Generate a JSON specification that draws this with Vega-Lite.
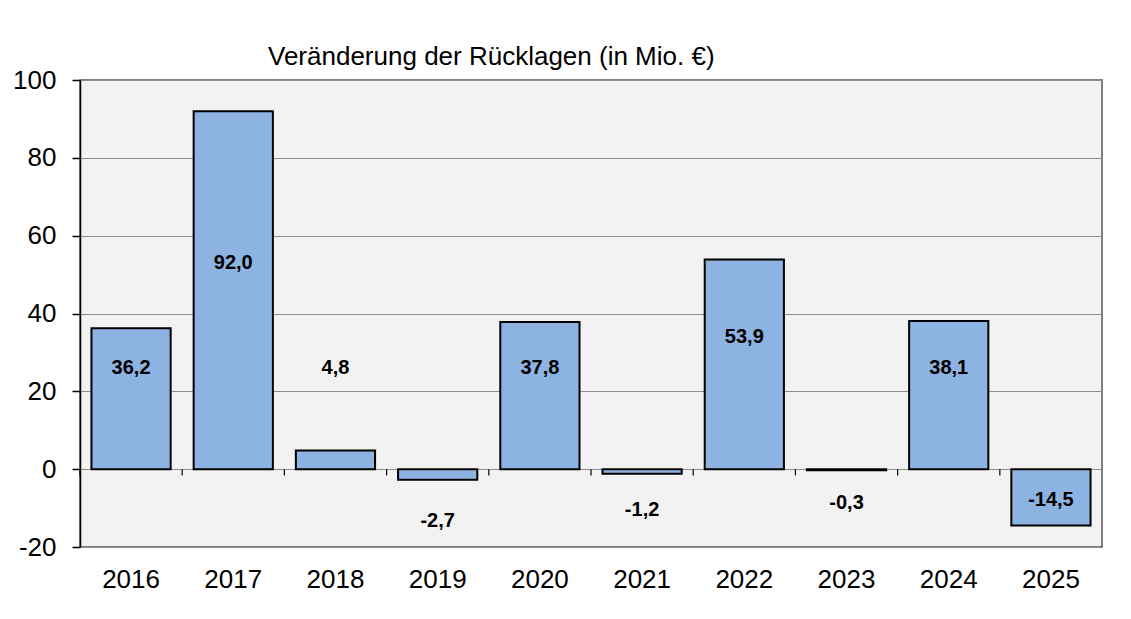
{
  "$schema": "https://vega.github.io/schema/vega-lite/v6.json",
  "width": 1022,
  "height": 467,
  "autosize": "none",
  "padding": {"left": 80, "top": 80, "right": 29, "bottom": 72},
  "background": "white",
  "title": {
    "text": "Veränderung der Rücklagen (in Mio. €)",
    "anchor": "start",
    "frame": "group",
    "dx": 188,
    "dy": 42,
    "offset": 18,
    "baseline": "alphabetic",
    "font": "Liberation Sans",
    "fontSize": 26,
    "fontWeight": "normal",
    "color": "#000000"
  },
  "data": {
    "values": [
      {"year": "2016", "value": 36.2},
      {"year": "2017", "value": 92.0},
      {"year": "2018", "value": 4.8},
      {"year": "2019", "value": -2.7},
      {"year": "2020", "value": 37.8},
      {"year": "2021", "value": -1.2},
      {"year": "2022", "value": 53.9},
      {"year": "2023", "value": -0.3},
      {"year": "2024", "value": 38.1},
      {"year": "2025", "value": -14.5}
    ]
  },
  "transform": [
    {"calculate": "(datum.value < 0 ? '-' : '') + replace(format(abs(datum.value), '.1f'), '.', ',')", "as": "label"},
    {"calculate": "datum.value > 0 ? max(datum.value / 2 + 7, 26) : (datum.value < -10 ? datum.value / 2 - 0.7 : datum.value * 2 - 8)", "as": "labelPos"}
  ],
  "encoding": {
    "x": {
      "field": "year",
      "type": "ordinal",
      "scale": {"paddingInner": 0.225, "paddingOuter": 0.112},
      "axis": {
        "title": null,
        "labelAngle": 0,
        "ticks": false,
        "domain": false,
        "labelPadding": 19,
        "labelFont": "Liberation Sans",
        "labelFontSize": 26,
        "labelColor": "#000000"
      }
    }
  },
  "layer": [
    {
      "mark": {"type": "bar", "fill": "#8DB3E2", "stroke": "#000000", "strokeWidth": 2},
      "encoding": {
        "y": {
          "field": "value",
          "type": "quantitative",
          "scale": {"domain": [-20, 100], "nice": false, "zero": true},
          "axis": {
            "title": null,
            "values": [-20, 0, 20, 40, 60, 80, 100],
            "labelExpr": "toString(datum.value)",
            "grid": true,
            "gridColor": "#8c8c8c",
            "gridWidth": 1,
            "domainColor": "#000000",
            "domainWidth": 1.5,
            "tickColor": "#000000",
            "tickSize": 8,
            "tickWidth": 1.5,
            "labelPadding": 16,
            "labelFont": "Liberation Sans",
            "labelFontSize": 26,
            "labelColor": "#000000"
          }
        }
      }
    },
    {
      "mark": {"type": "rule", "color": "#000000", "strokeWidth": 1.2},
      "encoding": {"y": {"datum": 0, "type": "quantitative"}}
    },
    {
      "mark": {"type": "rule", "color": "#000000", "strokeWidth": 1.2},
      "encoding": {
        "x": {"field": "year", "type": "ordinal", "bandPosition": -0.145},
        "y": {"datum": 0, "type": "quantitative"},
        "y2": {"datum": -1.6}
      }
    },
    {
      "mark": {"type": "text", "font": "Liberation Sans", "fontSize": 20, "fontWeight": "bold", "color": "#000000", "baseline": "middle"},
      "encoding": {
        "y": {"field": "labelPos", "type": "quantitative"},
        "text": {"field": "label", "type": "nominal"}
      }
    }
  ],
  "config": {
    "view": {"fill": "#f2f2f2", "stroke": "#595959", "strokeWidth": 1.5}
  }
}
